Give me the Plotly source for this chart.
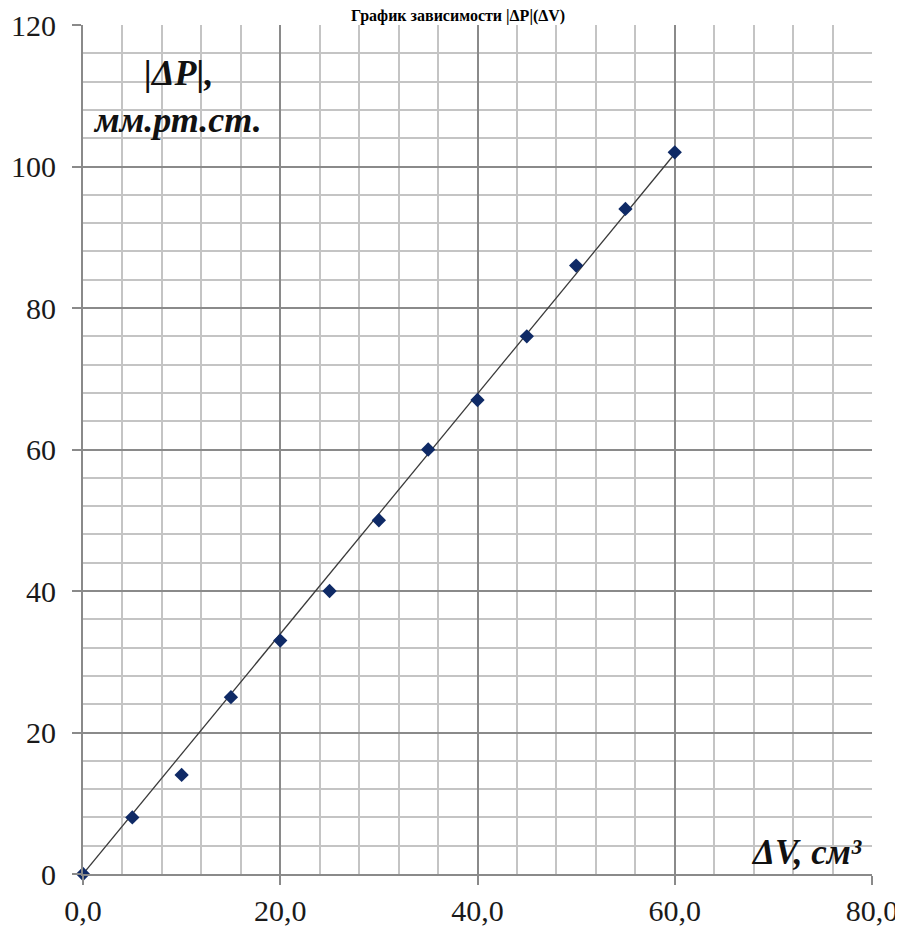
import plotly.graph_objects as go

# Data
dV = [0, 5, 10, 15, 20, 25, 30, 35, 40, 45, 50, 55, 60]
dP = [0, 8, 14, 25, 33, 40, 50, 60, 67, 76, 86, 94, 102]
trend_x = [0, 60]
trend_y = [0, 101.8]

x_tickvals = [0, 20, 40, 60, 80]
x_ticktext = ["0,0", "20,0", "40,0", "60,0", "80,0"]
y_tickvals = [0, 20, 40, 60, 80, 100, 120]
y_ticktext = ["0", "20", "40", "60", "80", "100", "120"]

FONT = "Liberation Serif"
MAJOR = "#8a8a8a"
MINOR = "#c4c4c4"

fig = go.Figure()
fig.add_trace(go.Scatter(x=trend_x, y=trend_y, mode="lines",
                         line=dict(color="#3a3a3a", width=1.3),
                         showlegend=False, hoverinfo="skip"))
fig.add_trace(go.Scatter(x=dV, y=dP, mode="markers",
                         marker=dict(symbol="diamond", size=11, color="#0f2a66"),
                         showlegend=False, cliponaxis=False))

common = dict(showgrid=True, gridcolor=MAJOR, gridwidth=1.5,
              minor=dict(dtick=4, showgrid=True, gridcolor=MINOR, gridwidth=1.5),
              showline=True, linecolor=MAJOR, linewidth=2,
              ticks="outside", ticklen=9, tickcolor=MAJOR, tickwidth=1.5,
              tickfont=dict(family=FONT, size=30, color="#1a1a1a"),
              zeroline=False, mirror=False, automargin=False)
fig.update_xaxes(range=[0, 80], tickvals=x_tickvals, ticktext=x_ticktext, **common)
fig.update_yaxes(range=[0, 120], tickvals=y_tickvals, ticktext=y_ticktext,
                 ticklabelstandoff=10, **common)

PW, PH = 789, 849  # plot area size in px
ann_font = dict(family=FONT, size=36, color="#111111")
fig.add_annotation(x=(178 - 83) / PW, y=1 - (73 - 25) / PH, xref="paper", yref="paper",
                   text="<b><i>|ΔP|,</i></b>", showarrow=False, font=ann_font,
                   xanchor="center", yanchor="middle")
fig.add_annotation(x=(177 - 83) / PW, y=1 - (120 - 25) / PH, xref="paper", yref="paper",
                   text="<b><i>мм.рт.ст.</i></b>", showarrow=False, font=ann_font,
                   xanchor="center", yanchor="middle")
fig.add_annotation(x=(864 - 83) / PW, y=(874 - 852) / PH, xref="paper", yref="paper",
                   text="<b><i>ΔV, см³</i></b>", showarrow=False,
                   font=dict(family=FONT, size=35, color="#111111"),
                   xanchor="right", yanchor="middle")
# Title at the top edge
fig.add_annotation(x=(458 - 83) / PW, y=1 + (25 - 16) / PH, xref="paper", yref="paper",
                   text="<b>График зависимости |ΔP|(ΔV)</b>", showarrow=False,
                   font=dict(family=FONT, size=16, color="#000000"),
                   xanchor="center", yanchor="middle")

# The page body has an 8px margin, so the figure is shifted by 8px.
fig.update_layout(width=895, height=925,
                  margin=dict(l=75, r=31, t=17, b=59, autoexpand=False),
                  paper_bgcolor="white", plot_bgcolor="white")

fig.write_html("out.html")
